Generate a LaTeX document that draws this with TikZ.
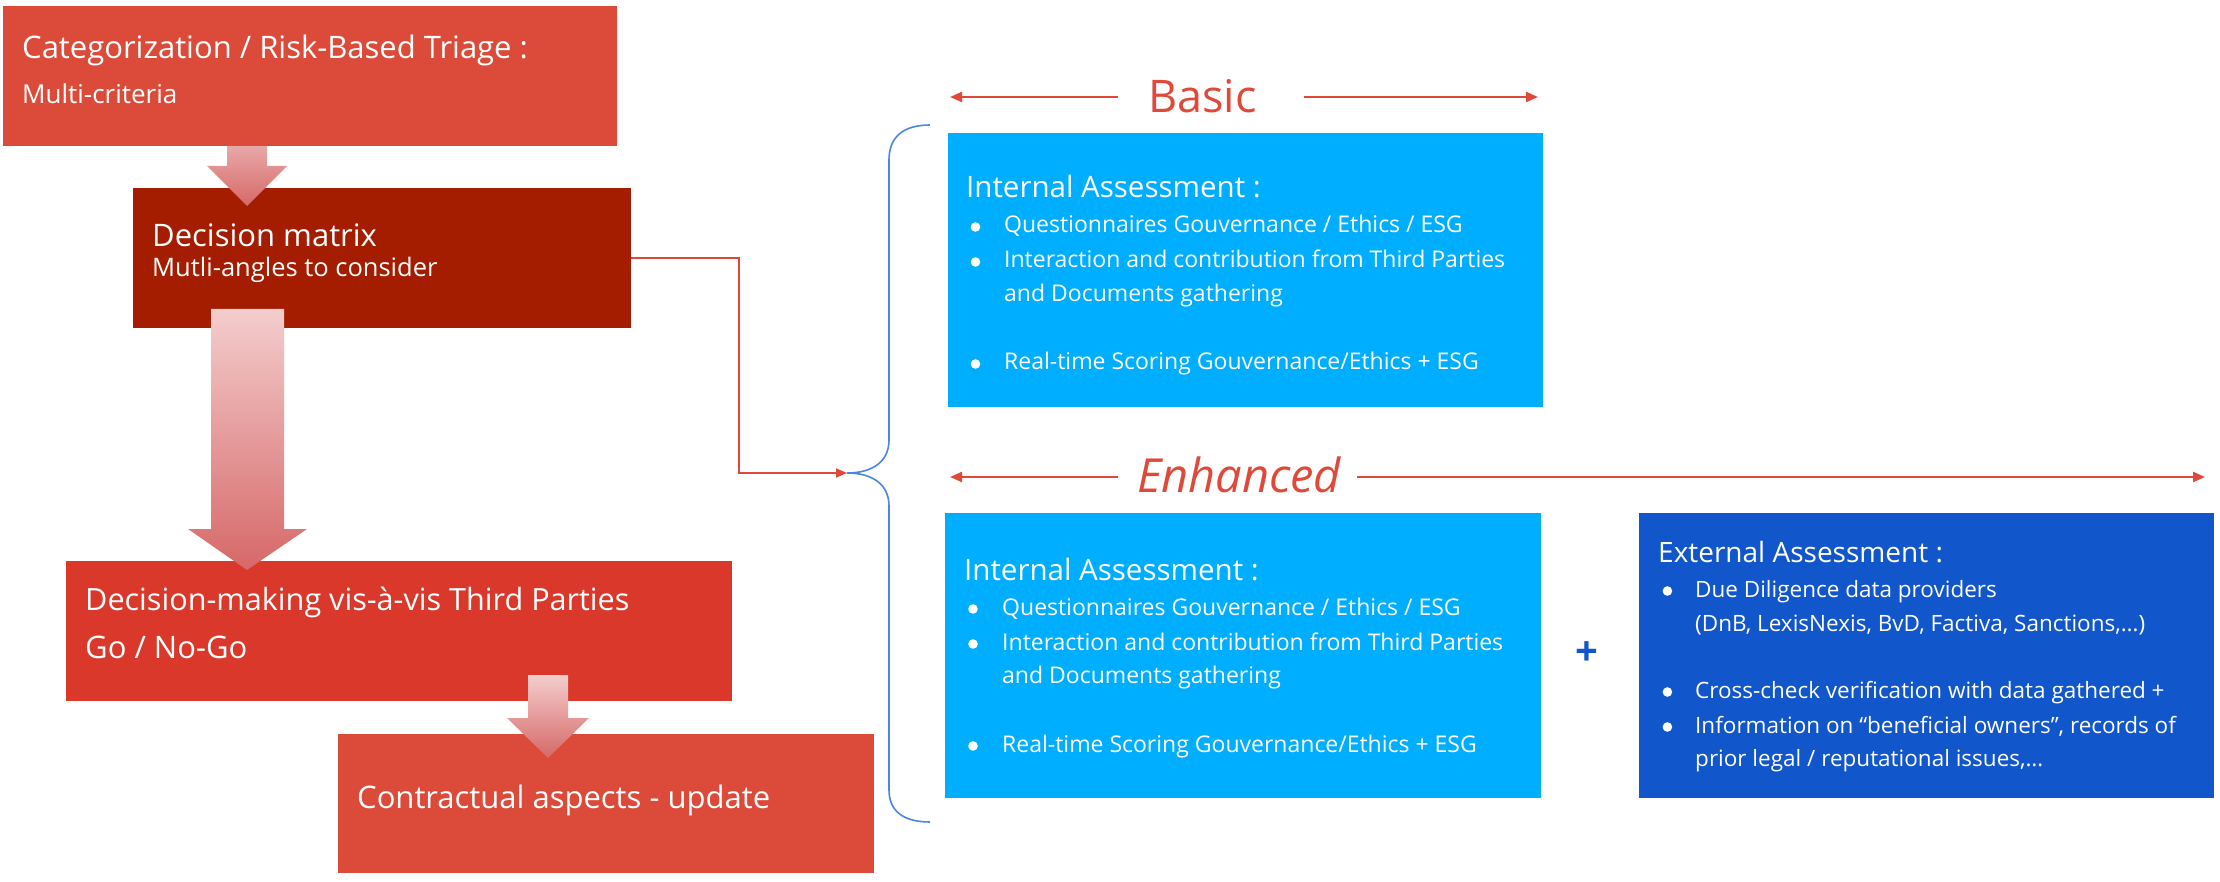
\documentclass[tikz,border=0pt]{standalone}
\usepackage{fontspec}
\setmainfont{Open Sans}
\usetikzlibrary{arrows.meta,calc}
\definecolor{redA}{HTML}{DC4B3A}
\definecolor{redB}{HTML}{A51D00}
\definecolor{redC}{HTML}{D9382B}
\definecolor{lineRed}{HTML}{E0493A}
\definecolor{skyB}{HTML}{00AEFF}
\definecolor{deepB}{HTML}{1256CC}
\definecolor{braceB}{HTML}{4A86E8}
\definecolor{pinkTop}{HTML}{F4CDCD}
\definecolor{pinkMid}{HTML}{E8A8A8}
\definecolor{pinkBot}{HTML}{D66868}
\begin{document}
\begin{tikzpicture}[x=1pt,y=-1pt,
  box/.style={draw=none,inner sep=0,anchor=north west},
  txt/.style={anchor=base west,inner sep=0,text=white},
  bigt/.style={txt,font=\fontsize{31}{37}\selectfont},
  subt/.style={txt,font=\fontsize{26}{31}\selectfont},
  hd/.style={txt,font=\fontsize{29.5}{34}\selectfont},
  bt/.style={txt,font=\fontsize{23}{27}\selectfont},
  bulletdot/.style={fill=white},
  lab/.style={anchor=base west,inner sep=0,text=lineRed,font=\fontsize{45}{52}\selectfont},
  lblarrow/.style={draw=lineRed,line width=2.2pt,-{Triangle[length=12pt,width=10pt]}},
  conn/.style={draw=lineRed,line width=1.6pt,-{Triangle[length=11pt,width=9pt]}},
  blockar/.style={bottom color=pinkBot}
]
\useasboundingbox (0,0) rectangle (2220,882);

% left boxes
\node[box,fill=redB,minimum width=498pt,minimum height=140pt] (b2) at (133,188) {};
\shade[blockar,top color=pinkMid] (227,146) -- (267,146) -- (267,166) -- (287,166) -- (247,206) -- (207,166) -- (227,166) -- cycle;
\node[box,fill=redA,minimum width=614pt,minimum height=140pt] (b1) at (3,6) {};
\node[box,fill=redC,minimum width=666pt,minimum height=140pt] (b3) at (66,561) {};
\node[box,fill=redA,minimum width=536pt,minimum height=139pt] (b4) at (338,734) {};

\shade[blockar,top color=pinkTop] (211,309) -- (284,309) -- (284,529) -- (307,529) -- (247,570) -- (188,529) -- (211,529) -- cycle;
\shade[blockar,top color=pinkTop] (528,675) -- (568,675) -- (568,718) -- (589,718) -- (548,758) -- (507,718) -- (528,718) -- cycle;

\node[bigt] (t1a) at (22,59) {Categorization / Risk-Based Triage :};
\node[subt] (t1b) at (22,104) {Multi-criteria};
\node[bigt] (t2a) at (152,247) {Decision matrix};
\node[subt,font=\fontsize{25.5}{30}\selectfont] (t2b) at (152,277) {Mutli-angles to consider};
\node[bigt,font=\fontsize{30.6}{37}\selectfont] (t3a) at (85,610) {Decision-making vis-à-vis Third Parties};
\node[bigt] (t3b) at (85,658) {Go / No-Go};
\node[bigt] (t4a) at (357,808) {Contractual aspects - update};

% brace
\coordinate (bt) at (847,473);
\draw[braceB,line width=1.6pt] (930,125) .. controls (902,125) and (889,138) .. (889,160) -- (889,440) .. controls (889,462) and (872,473) .. (bt) .. controls (872,473) and (889,484) .. (889,506) -- (889,790) .. controls (889,810) and (902,822) .. (930,822);

% connector
\coordinate (k1) at (739,473);
\draw[conn] (b2.east) -| (k1) -- (bt);

% labels
\node[lab] (basic) at (1148,113) {Basic};
\coordinate (bl1) at (1118,97); \coordinate (bl2) at (950,97);
\coordinate (br1) at (1304,97); \coordinate (br2) at (1538,97);
\draw[lblarrow] (bl1) -- (bl2);
\draw[lblarrow] (br1) -- (br2);
\node[lab,font=\fontsize{47}{54}\selectfont\itshape] (enh) at (1137,492) {Enhanced};
\coordinate (el1) at (1118,477); \coordinate (el2) at (950,477);
\coordinate (er1) at (1357,477); \coordinate (er2) at (2205,477);
\draw[lblarrow] (el1) -- (el2);
\draw[lblarrow] (er1) -- (er2);

% blue boxes
\node[box,fill=skyB,minimum width=595pt,minimum height=274pt] (ib) at (948,133) {};
\node[box,fill=skyB,minimum width=596pt,minimum height=285pt] (ie) at (945,513) {};
\node[box,fill=deepB,minimum width=575pt,minimum height=285pt] (ex) at (1639,513) {};

\node[hd] (ib0) at (966,198) {Internal Assessment :};
\node[bt] (ib1) at (1004,233) {Questionnaires Gouvernance / Ethics / ESG};
\node[bt] (ib2) at (1004,268) {Interaction and contribution from Third Parties};
\node[bt] (ib3) at (1004,302) {and Documents gathering};
\node[bt] (ib4) at (1004,370) {Real-time Scoring Gouvernance/Ethics + ESG};
\foreach \yy in {227,262,364} {\fill[bulletdot] (975.5,\yy) circle (4.8);}

\node[hd] (ie0) at (964,580) {Internal Assessment :};
\node[bt] (ie1) at (1002,615) {Questionnaires Gouvernance / Ethics / ESG};
\node[bt] (ie2) at (1002,650) {Interaction and contribution from Third Parties};
\node[bt] (ie3) at (1002,683) {and Documents gathering};
\node[bt] (ie4) at (1002,752) {Real-time Scoring Gouvernance/Ethics + ESG};
\foreach \yy in {609,644,746} {\fill[bulletdot] (973,\yy) circle (4.8);}

\node[hd,font=\fontsize{28}{34}\selectfont] (ex0) at (1658,562) {External Assessment :};
\node[bt,font=\fontsize{22.5}{27}\selectfont] (ex1) at (1695,597) {Due Diligence data providers};
\node[bt,font=\fontsize{22.5}{27}\selectfont] (ex2) at (1695,631) {(DnB, LexisNexis, BvD, Factiva, Sanctions,…)};
\node[bt,font=\fontsize{22.5}{27}\selectfont] (ex3) at (1695,698) {Cross-check verification with data gathered +};
\node[bt,font=\fontsize{22.5}{27}\selectfont] (ex4) at (1695,733) {Information on “beneficial owners”, records of};
\node[bt,font=\fontsize{22.5}{27}\selectfont] (ex5) at (1695,766) {prior legal / reputational issues,…};
\foreach \yy in {591,692,727} {\fill[bulletdot] (1667.4,\yy) circle (4.8);}

\node[inner sep=0,text=deepB,font=\fontsize{40}{40}\selectfont\bfseries] (plus) at (1587,654) {+};
\end{tikzpicture}
\end{document}
